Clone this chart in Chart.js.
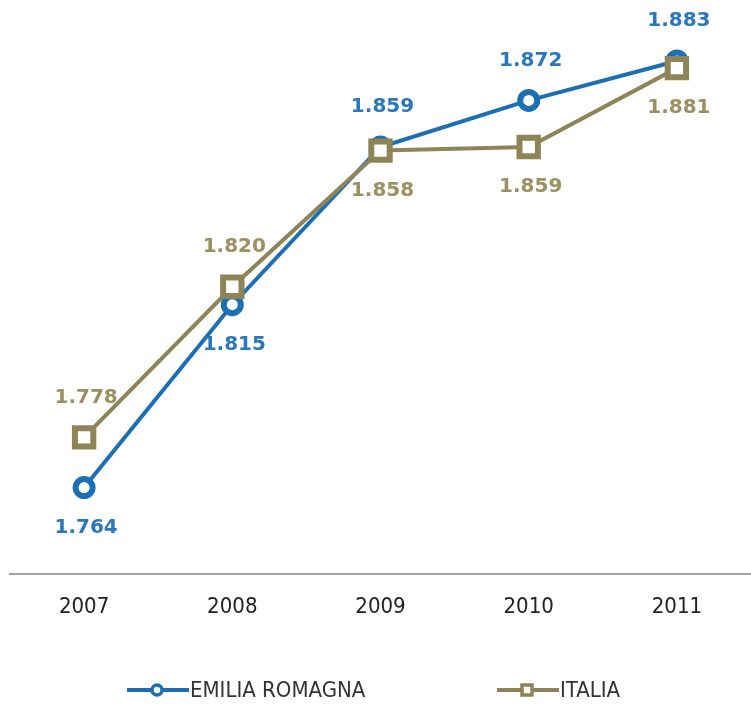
<!DOCTYPE html>
<html>
<head>
<meta charset="utf-8">
<script src="https://cdn.jsdelivr.net/npm/chart.js@4/dist/chart.umd.min.js"></script>
<style>
  html, body { margin: 0; padding: 0; background: #fff; }
  #wrap { width: 751px; height: 707px; }
</style>
</head>
<body>
<div id="wrap"><canvas id="chart" width="751" height="707"></canvas></div>
<script>
const years = ['2007', '2008', '2009', '2010', '2011'];
const emilia = [1764, 1815, 1859, 1872, 1883];
const italia = [1778, 1820, 1858, 1859, 1881];
// where each value label sits relative to its point
const emiliaLabelPos = ['below', 'below', 'above', 'above', 'above'];
const italiaLabelPos = ['above', 'above', 'below', 'below', 'below'];

const blue = '#1d6fb4', blueText = '#2a77bb';
const olive = '#8e8457', oliveText = '#9b905f';

// 1764 -> "1.764"
function fmt(v) { return String(v).replace(/\B(?=(\d{3})+(?!\d))/g, '.'); }

const valueLabels = {
    id: 'valueLabels',
    afterDatasetsDraw(chart) {
        const ctx = chart.ctx;
        ctx.save();
        ctx.font = 'bold 20px "DejaVu Sans", Verdana, sans-serif';
        ctx.textAlign = 'center';
        ctx.textBaseline = 'middle';
        chart.data.datasets.forEach((ds, i) => {
            const meta = chart.getDatasetMeta(i);
            meta.data.forEach((pt, j) => {
                const off = ds.labelPos[j] === 'above' ? -40 : 40;
                ctx.fillStyle = ds.labelColor;
                ctx.fillText(fmt(ds.data[j]), pt.x + 2, pt.y + off);
            });
        });
        ctx.restore();
    }
};

const lineLegend = {
    id: 'lineLegend',
    afterDraw(chart) {
        const ctx = chart.ctx;
        const y = 690;
        const items = [
            { x: 127, text: 'EMILIA ROMAGNA', color: blue, style: 'circle' },
            { x: 497, text: 'ITALIA', color: olive, style: 'rect' }
        ];
        ctx.save();
        items.forEach(it => {
            ctx.strokeStyle = it.color;
            ctx.lineWidth = 4;
            ctx.beginPath();
            ctx.moveTo(it.x, y);
            ctx.lineTo(it.x + 62, y);
            ctx.stroke();
            ctx.fillStyle = '#fff';
            ctx.lineWidth = 3.5;
            ctx.beginPath();
            if (it.style === 'circle') ctx.arc(it.x + 30, y, 5, 0, Math.PI * 2);
            else ctx.rect(it.x + 25, y - 5, 10, 10);
            ctx.fill();
            ctx.stroke();
            ctx.fillStyle = '#333';
            ctx.font = '22px "DejaVu Sans Condensed", "DejaVu Sans", sans-serif';
            ctx.textAlign = 'left';
            ctx.textBaseline = 'middle';
            ctx.fillText(it.text, it.x + 63, y + 1);
        });
        ctx.restore();
    }
};

new Chart(document.getElementById('chart'), {
    type: 'line',
    data: {
        labels: years,
        datasets: [
            {
                label: 'EMILIA ROMAGNA', data: emilia, order: 1,
                borderColor: blue, backgroundColor: '#fff', borderWidth: 4,
                pointStyle: 'circle', pointRadius: 8.5, pointBorderWidth: 6,
                pointBackgroundColor: '#fff', pointBorderColor: blue,
                labelPos: emiliaLabelPos, labelColor: blueText, clip: false
            },
            {
                label: 'ITALIA', data: italia, order: 0,
                borderColor: olive, backgroundColor: '#fff', borderWidth: 4,
                pointStyle: 'rect', pointRadius: 13, pointBorderWidth: 6,
                pointBackgroundColor: '#fff', pointBorderColor: olive,
                labelPos: italiaLabelPos, labelColor: oliveText, clip: false
            }
        ]
    },
    options: {
        responsive: false,
        animation: false,
        layout: { autoPadding: false, padding: { left: 10, right: 0, top: 0, bottom: 67 } },
        plugins: { legend: { display: false }, tooltip: { enabled: false } },
        scales: {
            x: {
                offset: true,
                grid: { display: false, drawTicks: false },
                border: { display: true, color: '#a3a3a3', width: 2 },
                ticks: {
                    padding: 20, color: '#222',
                    font: { family: '"DejaVu Sans Condensed", "DejaVu Sans", sans-serif', size: 22 }
                }
            },
            y: { display: false, min: 1740, max: 1900 }
        }
    },
    plugins: [valueLabels, lineLegend]
});
</script>
</body>
</html>
